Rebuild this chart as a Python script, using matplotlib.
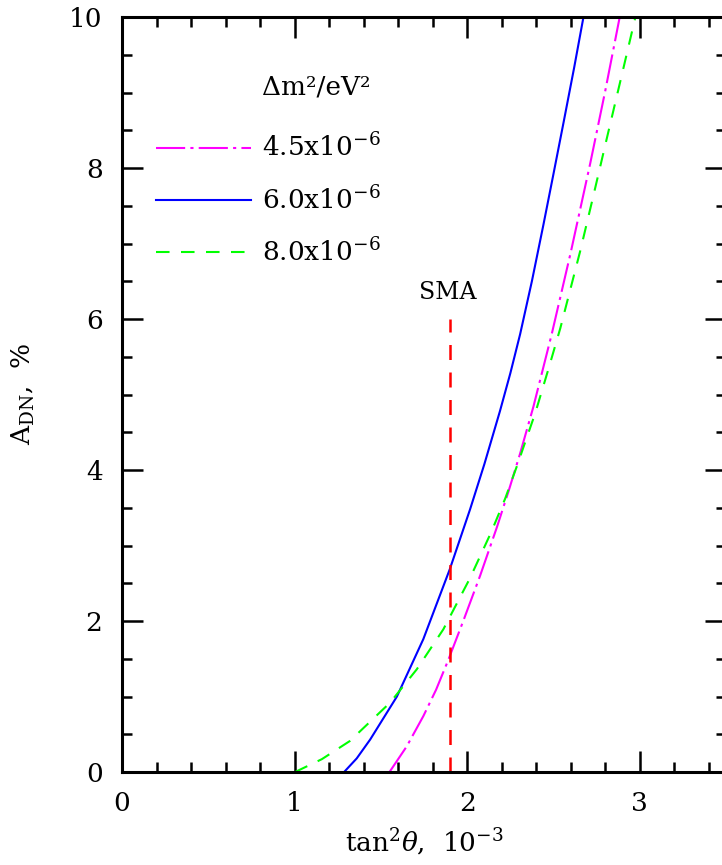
import numpy as np
import matplotlib
matplotlib.use("Agg")
import matplotlib.pyplot as plt
from matplotlib.ticker import MultipleLocator

plt.rcParams['font.family'] = ['DejaVu Serif']
plt.rcParams['mathtext.fontset'] = 'dejavuserif'

# day-night asymmetry vs tan^2(theta) (units 1e-3) for three values of dm^2
x_45 = [1.55, 1.65, 1.746, 1.82, 1.89, 1.979, 2.075, 2.172, 2.24, 2.307,
        2.384, 2.49, 2.60, 2.713, 2.80, 2.884]
y_45 = [0.0, 0.34, 0.74, 1.09, 1.48, 2.01, 2.60, 3.24, 3.72, 4.22,
        4.84, 5.80, 6.88, 8.06, 9.02, 10.0]

x_60 = [1.287, 1.36, 1.438, 1.593, 1.746, 1.90, 2.017, 2.10, 2.19, 2.25,
        2.307, 2.375, 2.442, 2.50, 2.56, 2.62, 2.674]
y_60 = [0.0, 0.18, 0.43, 1.0, 1.76, 2.69, 3.48, 4.08, 4.78, 5.28,
        5.80, 6.50, 7.25, 7.92, 8.62, 9.33, 10.0]

x_80 = [1.003, 1.158, 1.32, 1.554, 1.708, 1.862, 2.017, 2.14, 2.22, 2.288,
        2.394, 2.47, 2.54, 2.655, 2.73, 2.81, 2.90, 2.975]
y_80 = [0.0, 0.17, 0.41, 0.92, 1.36, 1.89, 2.57, 3.18, 3.62, 4.05,
        4.75, 5.33, 5.88, 6.90, 7.62, 8.40, 9.27, 10.0]

labels = [r"4.5x10$^{-6}$", r"6.0x10$^{-6}$", r"8.0x10$^{-6}$"]

# SMA best-fit point
sma_x = 1.9
sma_top = 6.0

fig = plt.figure(figsize=(7.22, 8.65), dpi=100)
ax = fig.add_axes([0.16898, 0.10751, 0.8366, 0.87283])

lw = 1.5
ax.plot(x_45, y_45, color='#ff00ff', lw=lw, dashes=(14, 2.5, 1.5, 2.5), label=labels[0])
ax.plot(x_60, y_60, color='#0000ff', lw=lw, label=labels[1])
ax.plot(x_80, y_80, color='#00ff00', lw=lw, dashes=(6.5, 5.5), label=labels[2])
ax.plot([sma_x, sma_x], [0, sma_top], color='#ff0000', lw=1.8, dashes=(6, 5))
ax.text(sma_x - 0.015, sma_top + 0.2, "SMA", fontsize=17, ha='center', va='bottom')

ax.set_xlim(0, 3.5)
ax.set_ylim(0, 10)
ax.xaxis.set_major_locator(MultipleLocator(1))
ax.xaxis.set_minor_locator(MultipleLocator(0.2))
ax.yaxis.set_major_locator(MultipleLocator(2))
ax.yaxis.set_minor_locator(MultipleLocator(0.5))
ax.tick_params(which='both', direction='in', top=True, right=True,
               labelsize=19, pad=14)
ax.tick_params(which='major', length=15, width=1.8)
ax.tick_params(which='minor', length=7, width=1.8)
for sp in ax.spines.values():
    sp.set_linewidth(2.2)

ax.set_xlabel(r"tan$^{2}\theta$,  10$^{-3}$", fontsize=19)
ax.set_ylabel(r"A$_{\rm DN}$,  %", fontsize=19)
ax.xaxis.set_label_coords(0.5, -0.072)
ax.yaxis.set_label_coords(-0.141, 0.5)

ax.text(0.81, 8.97, "Δm²/eV²", fontsize=19, ha='left', va='baseline')
leg = ax.legend(loc='upper left', bbox_to_anchor=(0.057, 0.846), frameon=False,
                fontsize=19, handlelength=3.6, handletextpad=0.4,
                labelspacing=0.9, borderaxespad=0, borderpad=0)

fig.savefig("out.png", dpi=100)
